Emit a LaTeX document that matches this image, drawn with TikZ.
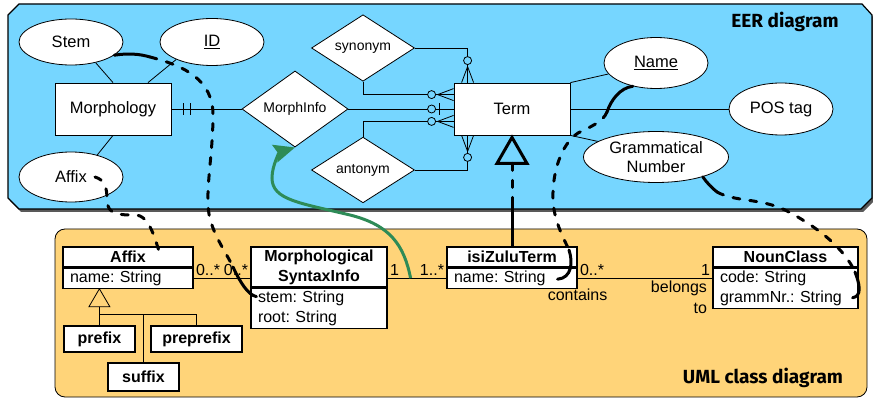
\documentclass[tikz,border=0pt]{standalone}
\usepackage{fontspec}
\setmainfont{Liberation Sans}
\newfontfamily\tagfont{Fira Sans}
\frenchspacing
\usetikzlibrary{calc}
\usetikzlibrary{positioning}
\usetikzlibrary{shapes.geometric}
\usetikzlibrary{arrows.meta}
\definecolor{eerblue}{RGB}{118,214,255}
\definecolor{umlorange}{RGB}{255,212,121}
\definecolor{mapgreen}{RGB}{46,139,87}
\newcommand\zeroMany[3]{
    \draw ($(#1)+16*(#2)$) -- ($(#1)+6*(#3)$);
    \draw ($(#1)+16*(#2)$) -- ($(#1)-6*(#3)$);
    \draw[fill=eerblue] ($(#1)+22*(#2)$) circle (4pt);
}
\newcommand\zeroOne[3]{
    \draw ($(#1)+14*(#2)+6*(#3)$) -- ($(#1)+14*(#2)-6*(#3)$);
    \draw[fill=eerblue] ($(#1)+22*(#2)$) circle (4pt);
}
\newcommand\oneOne[3]{
    \draw ($(#1)+12*(#2)+6*(#3)$) -- ($(#1)+12*(#2)-6*(#3)$);
    \draw ($(#1)+19*(#2)+6*(#3)$) -- ($(#1)+19*(#2)-6*(#3)$);
}
\newcommand\eerPanel{
    (8,15) -- (19,4) -- (862,4) -- (872,15) -- (872,198) -- (861,209) -- (19,209) -- (8,198) -- cycle
}

\begin{document}
\begin{tikzpicture}[x=1pt, y=-1pt, line width=0.8pt,
        ent/.style={draw, fill=white, minimum width=116pt, minimum height=52pt,
            inner sep=0pt, font=\fontsize{16.5}{19}\selectfont},
        attr/.style={ellipse, draw, fill=white, minimum width=104pt,
            minimum height=51pt, inner sep=0pt, font=\fontsize{16.5}{19}\selectfont},
        rel/.style={diamond, draw, fill=white, minimum width=106pt,
            minimum height=64pt, inner sep=0pt, font=\fontsize{14}{16}\selectfont},
        hdr/.style={draw, fill=white, line width=1.2pt, minimum height=20pt,
            inner sep=0pt, align=center, font=\fontsize{16}{20}\selectfont\bfseries},
        fld/.style={draw, fill=white, line width=1.2pt, minimum height=20pt,
            inner xsep=7pt, inner ysep=0pt, align=left, font=\fontsize{16}{20}\selectfont},
        mult/.style={inner sep=2pt, font=\fontsize{16}{21}\selectfont},
        paneltag/.style={font=\tagfont\bfseries\fontsize{19}{21}\selectfont},
        maplink/.style={line width=3pt, line cap=round},
        mapdash/.style={maplink, dash pattern=on 7pt off 10pt}
    ]
    \useasboundingbox[fill=white] (0,0) rectangle (873,398);

    % panels
    \fill[black!65, shift={(2,3)}] \eerPanel;
    \draw[fill=eerblue, line width=1.2pt] \eerPanel;
    \draw[fill=umlorange, rounded corners=10pt] (55,229) rectangle (867,397);
    \node[paneltag] (eer) at (785,22) {EER diagram};
    \node[paneltag] (uml) at (763,378) {UML class diagram};

    % EER diagram
    \node[attr, minimum height=46pt] (stem) at (71,42) {Stem};
    \node[attr, minimum height=47pt] (id) at (212,42) {\underline{ID}};
    \node[ent] (morph) at (113,109) {Morphology};
    \node[attr, minimum height=50pt] (affixE) at (71,177) {Affix};
    \node[rel] (mi) at (295,109) {MorphInfo};
    \node[rel, minimum width=103pt] (syn) at (363,48) {synonym};
    \node[rel, minimum width=103pt] (ant) at (363,170) {antonym};
    \node[ent] (term) at (512,109) {Term};
    \node[attr] (name) at (656,63) {\underline{Name}};
    \node[attr, minimum height=52pt] (pos) at (781,109) {POS tag};
    \node[attr, minimum width=145pt, align=center] (gn) at (656,157) {Grammatical\\Number};

    \draw (stem.-40) -- (morph.north);
    \draw (id.206) -- ($(morph.north)+(35,0)$);
    \draw (affixE.40) -- (morph.south);
    \draw (morph.east) -- (mi.west);
    \oneOne{morph.east}{1,0}{0,1}
    \draw (mi.east) -- (term.west);
    \zeroOne{term.west}{-1,0}{0,1}

    \coordinate (tTopL) at ($(term.north west)+(14,0)$);
    \coordinate (tSideU) at ($(term.north west)+(0,12)$);
    \coordinate (tSideD) at ($(term.south west)+(0,-14)$);
    \coordinate (tBotL) at ($(term.south west)+(14,0)$);
    \draw (syn.east) -| (tTopL);
    \draw (syn.south) |- (tSideU);
    \draw (ant.north) |- (tSideD);
    \draw (ant.east) -| (tBotL);
    \zeroMany{tTopL}{0,-1}{1,0}
    \zeroMany{tSideU}{-1,0}{0,1}
    \zeroMany{tSideD}{-1,0}{0,1}
    \zeroMany{tBotL}{0,1}{1,0}

    \draw (term.north east) -- (name.193);
    \draw (term.east) -- (pos.west);
    \draw (term.south east) -- (gn.165);

    % UML class diagram
    \node[hdr, minimum width=130pt] (affixH) at (128,257) {Affix};
    \node[fld, text width=116pt, below=0pt of affixH] (affixA) {name: String};
    \node[hdr, minimum width=136pt, minimum height=40pt] (msiH) at (319,267) {Morphological\\SyntaxInfo};
    \node[fld, text width=122pt, minimum height=40pt, below=0pt of msiH] (msiA) {stem: String\\root: String};
    \node[hdr, minimum width=130pt] (zuluH) at (512,257) {isiZuluTerm};
    \node[fld, text width=116pt, below=0pt of zuluH] (zuluA) {name: String};
    \node[hdr, minimum width=145pt] (nounH) at (785.5,257) {NounClass};
    \node[fld, text width=131pt, minimum height=40pt, below=0pt of nounH] (nounA) {code: String\\grammNr.: String};
    \node[hdr, minimum width=71pt, minimum height=26pt] (prefix) at (99.5,339) {prefix};
    \node[hdr, minimum width=91pt, minimum height=26pt] (preprefix) at (196.5,339) {preprefix};
    \node[hdr, minimum width=71pt, minimum height=28pt] (suffix) at (143.5,377) {suffix};

    \draw (affixA.east) -- node[mult, pos=0, anchor=south west] {0..*}
        node[mult, pos=1, anchor=south east] {0..*} (affixA.east -| msiH.west);
    \draw (zuluA.east -| msiH.east) -- node[mult, pos=0, anchor=south west] {1}
        node[mult, pos=1, anchor=south east] {1..*} (zuluA.west);
    \draw (zuluA.east) -- node[mult, pos=0, anchor=south west] {0..*}
        node[mult, pos=0, anchor=north, yshift=-8pt] {contains}
        node[mult, pos=1, anchor=south east] {1}
        node[mult, pos=1, anchor=north east, align=right, xshift=-3pt] {belongs\\to}
        (zuluA.east -| nounA.west);

    \coordinate (ugtip) at ($(affixA.south west)+(37,0)$);
    \coordinate (ugbase) at ($(ugtip)+(0,18)$);
    \coordinate (ughub) at ($(ugbase)+(0,8)$);
    \draw (ugtip) -- ++(-10.5,18) -- ++(21,0) -- cycle;
    \draw (ugbase) -- (prefix.north);
    \draw (ughub) -| (preprefix.north);
    \draw (ughub -| suffix.north) -- (suffix.north);

    % mappings
    \coordinate (gtip) at ($(term.south)+(0,2)$);
    \coordinate (gbase) at ($(gtip)+(0,26)$);
    \coordinate (gmid) at ($(zuluH.north)+(0,-47)$);
    \draw[line width=3pt] (gtip) -- ++(-15,26) -- ++(30,0) -- cycle;
    \draw[mapdash] (gbase) -- (gmid);
    \draw[maplink] (gmid) -- (zuluH.north);

    \coordinate (s1) at (150,57);
    \coordinate (s2) at (233,267);
    \coordinate (stemEnd) at ($(msiA.north west)+(6,9)$);
    \draw[maplink] (stem.-17) .. controls (128,53) and (140,54) .. (s1);
    \draw[mapdash] (s1) .. controls (185,66) and (213,80) .. (213,115)
        .. controls (213,150) and (207,180) .. (208,205)
        .. controls (209,230) and (225,250) .. (s2);
    \draw[maplink] (s2) .. controls (240,282) and (248,295) .. (stemEnd);

    \coordinate (affixDot) at ($(affixE.center)+(24,0)$);
    \coordinate (affixEnd) at ($(affixH.center)+(33,0)$);
    \draw[mapdash] (affixDot) .. controls (105,180) and (107,188) .. (107,200)
        .. controls (107,215) and (120,215) .. (135,215)
        .. controls (150,215) and (155,240) .. (affixEnd);

    \coordinate (n1) at (607,112);
    \coordinate (n2) at (569,250);
    \coordinate (nameEnd) at ($(zuluA.east)+(-20,1)$);
    \draw[maplink] (name.225) .. controls (620,88) and (611,100) .. (n1);
    \draw[mapdash] (n1) .. controls (603,122) and (590,127) .. (578,133)
        .. controls (560,145) and (552,175) .. (553,200)
        .. controls (554,220) and (562,235) .. (n2);
    \draw[maplink] (n2) .. controls (573,262) and (572,278) .. (nameEnd);

    \coordinate (g1) at (717,192);
    \coordinate (g2) at (855,272);
    \coordinate (gnEnd) at ($(nounA.south east)+(-6,-11)$);
    \draw[maplink] (gn.-23) .. controls (707,183) and (712,188) .. (g1);
    \draw[mapdash] (g1) .. controls (735,202) and (760,198) .. (785,210)
        .. controls (820,228) and (845,250) .. (g2);
    \draw[maplink] (g2) .. controls (860,285) and (862,296) .. (gnEnd);

    \coordinate (gst) at ($(zuluA.east -| msiH.east)+(23,0)$);
    \draw[line width=3pt, mapgreen, -{Stealth[length=21pt, width=18pt, inset=3pt]}]
        (gst) .. controls (404,245) and (390,225) .. (350,215)
        .. controls (300,203) and (272,200) .. (272,178)
        .. controls (272,165) and (280,152) .. (mi.south);
\end{tikzpicture}
\end{document}
